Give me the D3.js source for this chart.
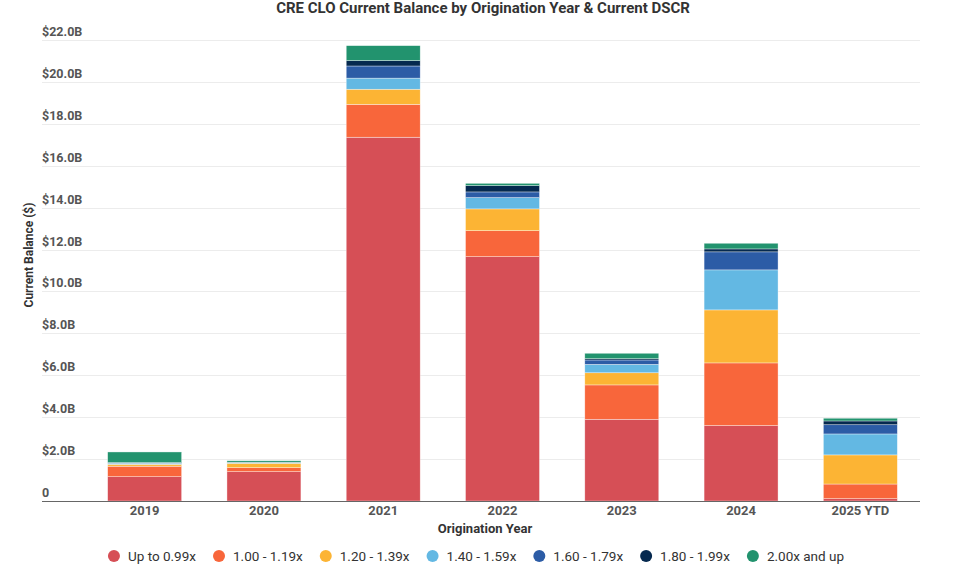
<!DOCTYPE html>
<html>
<head>
<meta charset="utf-8">
<script src="https://cdn.jsdelivr.net/npm/d3@7"></script>
<style>
  body { margin: 0; background: #fff; }
  svg { font-family: Roboto, "Noto Sans", sans-serif; display: block; }
</style>
</head>
<body>
<svg></svg>
<script>
// categories and series (values in $B)
const years = ["2019", "2020", "2021", "2022", "2023", "2024", "2025 YTD"];
const bands = ["Up to 0.99x", "1.00 - 1.19x", "1.20 - 1.39x", "1.40 - 1.59x", "1.60 - 1.79x", "1.80 - 1.99x", "2.00x and up"];
const upTo099 = [1.16, 1.40, 17.36, 11.66, 3.90, 3.60, 0.11];
const r100_119 = [0.50, 0.19, 1.57, 1.24, 1.64, 2.99, 0.70];
const r120_139 = [0.09, 0.21, 0.72, 1.04, 0.58, 2.53, 1.39];
const r140_159 = [0.05, 0.03, 0.53, 0.54, 0.40, 1.91, 1.00];
const r160_179 = [0.03, 0.01, 0.58, 0.27, 0.21, 0.86, 0.44];
const r180_199 = [0.00, 0.01, 0.26, 0.30, 0.06, 0.14, 0.18];
const r200up = [0.51, 0.07, 0.71, 0.11, 0.26, 0.27, 0.13];
const yTicks = [0, 2, 4, 6, 8, 10, 12, 14, 16, 18, 20, 22];
const colors = ["#d64f56", "#f8663b", "#fcb434", "#63b8e3", "#2c5ca6", "#05294f", "#22936e"];

const width = 975, height = 568;
const svg = d3.select("svg").attr("width", width).attr("height", height);

// build table for the stack
const seriesValues = [upTo099, r100_119, r120_139, r140_159, r160_179, r180_199, r200up];
const table = years.map((yr, i) => {
    const row = {year: yr};
    bands.forEach((b, j) => row[b] = seriesValues[j][i]);
    return row;
});
const stacked = d3.stack().keys(bands)(table);

const x = d3.scaleBand().domain(years).range([85, 920]).paddingInner(0.38).paddingOuter(0.19);
const y = d3.scaleLinear().domain([0, 22]).range([501, 40]);
const color = d3.scaleOrdinal().domain(bands).range(colors);

// title
svg.append("text")
    .attr("x", 483).attr("y", 13)
    .attr("text-anchor", "middle")
    .attr("font-size", 15).attr("font-weight", "bold").attr("fill", "#333")
    .text("CRE CLO Current Balance by Origination Year & Current DSCR");

// gridlines + y labels
const yAxis = svg.append("g");
yAxis.selectAll("line").data(yTicks.filter(d => d > 0)).join("line")
    .attr("x1", 42).attr("x2", 920)
    .attr("y1", d => Math.round(y(d)) + 0.5).attr("y2", d => Math.round(y(d)) + 0.5)
    .attr("stroke", "#ececec");
yAxis.selectAll("text").data(yTicks).join("text")
    .attr("x", 42).attr("y", d => y(d) - 4)
    .attr("font-size", 12.5).attr("font-weight", "bold").attr("fill", "#555")
    .text(d => d === 0 ? "0" : "$" + d.toFixed(1) + "B");

svg.append("text")
    .attr("transform", "translate(33,255) rotate(-90)")
    .attr("text-anchor", "middle")
    .attr("font-size", 12).attr("font-weight", "bold").attr("fill", "#333")
    .text("Current Balance ($)");

// bars
svg.append("g").selectAll("g").data(stacked).join("g")
    .attr("fill", d => color(d.key))
    .selectAll("rect").data(d => d).join("rect")
    .attr("x", d => x(d.data.year))
    .attr("width", x.bandwidth())
    .attr("y", d => y(d[1]))
    .attr("height", d => Math.max(0, y(d[0]) - y(d[1])))
    .attr("stroke", "#fff").attr("stroke-opacity", 0.6).attr("stroke-width", 0.6);

// x axis
svg.append("line")
    .attr("x1", 42).attr("x2", 920).attr("y1", 501.5).attr("y2", 501.5)
    .attr("stroke", "#666").attr("stroke-width", 1);
svg.append("g").selectAll("text").data(years).join("text")
    .attr("x", d => x(d) + x.bandwidth() / 2).attr("y", 515)
    .attr("text-anchor", "middle")
    .attr("font-size", 13).attr("font-weight", "bold").attr("fill", "#555")
    .text(d => d);
svg.append("text")
    .attr("x", 485).attr("y", 533)
    .attr("text-anchor", "middle")
    .attr("font-size", 13).attr("font-weight", "bold").attr("fill", "#333")
    .text("Origination Year");

// legend, laid out from text widths and centered
const legend = svg.append("g");
const items = legend.selectAll("g").data(bands).join("g");
items.append("circle").attr("cx", 6).attr("cy", 0).attr("r", 6).attr("fill", d => color(d));
items.append("text").attr("x", 20).attr("y", 4.5)
    .attr("font-size", 13.5).attr("fill", "#333")
    .text(d => d);
const gap = 17;
let offset = 0;
const positions = [];
items.each(function() {
    positions.push(offset);
    offset += 20 + this.querySelector("text").getComputedTextLength() + gap;
});
const total = offset - gap;
const startX = 476 - total / 2;
items.attr("transform", (d, i) => `translate(${startX + positions[i]},556)`);
</script>
</body>
</html>
